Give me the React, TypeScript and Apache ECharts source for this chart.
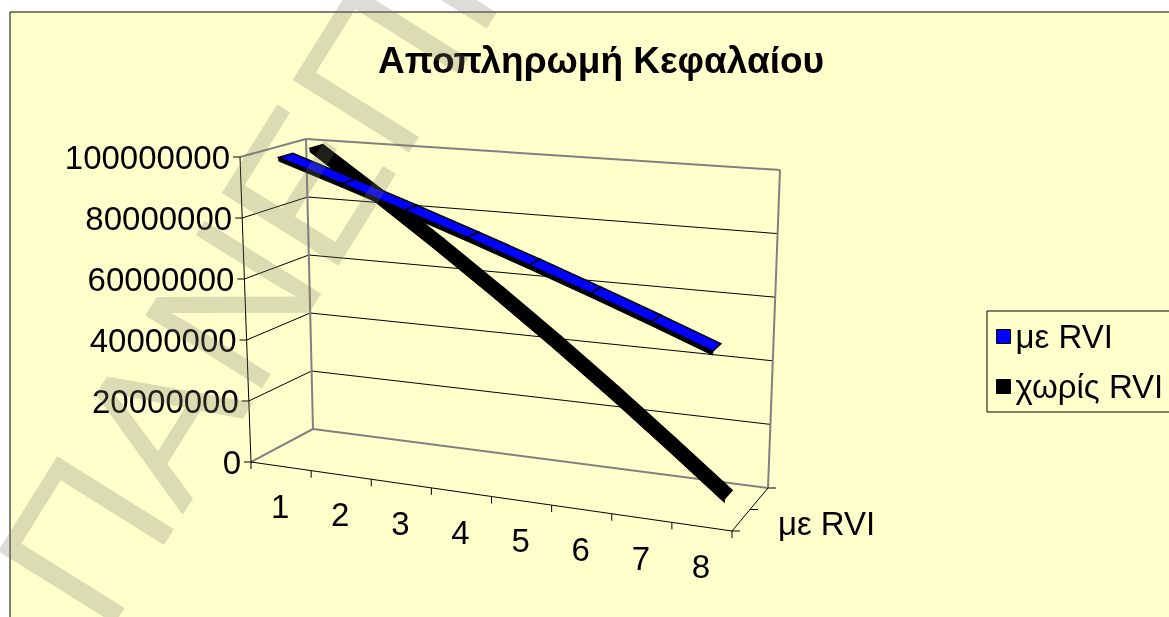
import React, { useEffect, useRef } from 'react';
import * as echarts from 'echarts';

// ---------- data ----------
const categories = ['1', '2', '3', '4', '5', '6', '7', '8'];
const seriesNames = ['με RVI', 'χωρίς RVI'];
const withRVI = [100000000, 93100000, 86200000, 79300000, 72400000, 65500000, 58600000, 51700000];
const withoutRVI = [100000000, 85800000, 71600000, 57400000, 43200000, 29000000, 14800000, 800000];
const yTicks = [0, 20000000, 40000000, 60000000, 80000000, 100000000];
const depthLabels = ['με RVI'];
const titleText = 'Αποπληρωμή Κεφαλαίου';
const watermarkText = 'ΠΑΝΕΠΙΣΤΗΜΙΟ';

// ---------- layout / styling ----------
const FONT = "'Liberation Sans', Arial, sans-serif";
const BG = '#FFFFCC';
const EDGE = '#808080';
const LABEL_SIZE = 33;
// screen corners of the 3D plot box (front/back, left/right, bottom/top)
const C: Record<string, number[]> = {
  flb: [251, 462], frb: [732, 531], flt: [240, 157], frt: [747, 197],
  blb: [313, 429], brb: [768, 488], blt: [306, 139], brt: [780, 170],
};
const lerp = (a: number[], b: number[], t: number) => [a[0] + (b[0] - a[0]) * t, a[1] + (b[1] - a[1]) * t];
// u: along categories (0..1), d: depth (0 front .. 1 back), v: value (0..1)
function proj(u: number, d: number, v: number) {
  const fb = lerp(C.flb, C.frb, u), ft = lerp(C.flt, C.frt, u);
  const bb = lerp(C.blb, C.brb, u), bt = lerp(C.blt, C.brt, u);
  const f = lerp(fb, ft, v), b = lerp(bb, bt, v);
  return lerp(f, b, d);
}
function toUV(params: any, pt: number[]) {
  const cs = params.coordSys;
  return [(pt[0] - cs.x) / cs.width, (cs.y + cs.height - pt[1]) / cs.height];
}
const line = (p: number[], q: number[], stroke: string, lineWidth: number) => ({
  type: 'line', shape: { x1: p[0], y1: p[1], x2: q[0], y2: q[1] }, style: { stroke, lineWidth },
});

function ribbon(name: string, values: number[], d0: number, d1: number, color: string, z: number) {
  return {
    type: 'custom', name, coordinateSystem: 'cartesian2d', clip: false, z,
    itemStyle: { color },
    data: values.map((v, i) => [i, v]),
    renderItem: (params: any, api: any) => {
      const i = params.dataIndex;
      if (i >= values.length - 1) return { type: 'group', children: [] };
      const a = toUV(params, api.coord([i, values[i]]));
      const b = toUV(params, api.coord([i + 1, values[i + 1]]));
      const th = 0.012;
      const top = [proj(a[0], d0, a[1]), proj(b[0], d0, b[1]), proj(b[0], d1, b[1]), proj(a[0], d1, a[1])];
      const front = [proj(a[0], d0, a[1]), proj(b[0], d0, b[1]), proj(b[0], d0, b[1] - th), proj(a[0], d0, a[1] - th)];
      return {
        type: 'group',
        children: [
          { type: 'polygon', shape: { points: front }, style: { fill: '#000', stroke: '#000', lineWidth: 1 } },
          { type: 'polygon', shape: { points: top }, style: { fill: color, stroke: '#000', lineWidth: 1.5 } },
        ],
      };
    },
  };
}

const option: any = {
  animation: false,
  title: {
    text: titleText, left: 596, top: 37, textAlign: 'center',
    textStyle: { fontSize: 37, fontWeight: 'bold', fontFamily: FONT, color: '#000' },
  },
  legend: {
    data: seriesNames.map((n) => ({ name: n, icon: 'rect' })),
    orient: 'vertical', left: 987, top: 311,
    itemWidth: 14, itemHeight: 14, itemGap: 17,
    padding: [9, 40, 9, 9],
    backgroundColor: BG, borderColor: '#000', borderWidth: 1, borderRadius: 0,
    textStyle: { fontSize: LABEL_SIZE, fontFamily: FONT, color: '#000' },
    itemStyle: { borderColor: '#000', borderWidth: 1 },
    selectedMode: false,
  },
  grid: { left: 100, top: 100, width: 800, height: 400, show: false },
  xAxis: { type: 'category', data: categories, boundaryGap: true, show: false },
  yAxis: { type: 'value', min: 0, max: 100000000, interval: 20000000, show: false },
  graphic: {
    elements: [
      { type: 'rect', z: -10, silent: true, shape: { x: 10, y: 12, width: 1200, height: 640 }, style: { fill: BG, stroke: '#000', lineWidth: 1 } },
      {
        type: 'text', z: 1000, silent: true, x: 47, y: 601, rotation: (58 * Math.PI) / 180,
        style: { text: watermarkText, fontSize: 200, fontFamily: FONT, fill: 'rgba(120,120,110,0.26)', textAlign: 'left', textVerticalAlign: 'middle' },
      },
    ],
  },
  series: [
    {
      type: 'custom', name: 'valueAxis', coordinateSystem: 'cartesian2d', clip: false, silent: true, z: 1,
      data: yTicks.map((t) => [0, t]),
      renderItem: (params: any, api: any) => {
        const val = api.value(1);
        const v = toUV(params, api.coord([0, val]))[1];
        const children: any[] = [];
        const edge = params.dataIndex === 0 || params.dataIndex === yTicks.length - 1;
        if (!edge) {
          children.push(line(proj(0, 1, v), proj(1, 1, v), '#000', 1));
          children.push(line(proj(0, 0, v), proj(0, 1, v), '#000', 1));
        }
        const p = proj(0, 0, v);
        children.push(line([p[0] - 7, p[1]], p, '#000', 1));
        children.push({
          type: 'text',
          style: { text: String(val), x: p[0] - 10, y: p[1], align: 'right', verticalAlign: 'middle', fontSize: LABEL_SIZE, fontFamily: FONT, fill: '#000' },
        });
        return { type: 'group', children };
      },
    },
    {
      type: 'custom', name: 'box', coordinateSystem: 'cartesian2d', clip: false, silent: true, z: 1,
      data: [[0, 0]],
      renderItem: () => {
        const P = (u: number, d: number, v: number) => proj(u, d, v);
        const children: any[] = [
          line(P(0, 0, 1), P(0, 1, 1), EDGE, 2),
          line(P(0, 1, 1), P(1, 1, 1), EDGE, 2),
          line(P(0, 1, 0), P(0, 1, 1), EDGE, 2),
          line(P(1, 1, 0), P(1, 1, 1), EDGE, 2),
          line(P(0, 1, 0), P(1, 1, 0), EDGE, 2),
          line(P(0, 0, 0), P(0, 1, 0), EDGE, 2),
          line(P(0, 0, 0), P(0, 0, 1), '#000', 1),
          line(P(0, 0, 0), P(1, 0, 0), '#000', 1),
          line(P(1, 0, 0), P(1, 1, 0), '#000', 1),
        ];
        [0, 0.5, 1].forEach((d) => {
          const p = P(1, d, 0);
          children.push(line(p, [p[0] + 8, p[1]], '#000', 1));
        });
        depthLabels.forEach((lab, k) => {
          const p = P(1, 0.22 + k * 0.5, 0);
          children.push({
            type: 'text',
            style: { text: lab, x: p[0] + 38, y: p[1] + 2, align: 'left', verticalAlign: 'middle', fontSize: LABEL_SIZE, fontFamily: FONT, fill: '#000' },
          });
        });
        return { type: 'group', children };
      },
    },
    {
      type: 'custom', name: 'categoryAxis', coordinateSystem: 'cartesian2d', clip: false, silent: true, z: 1,
      data: categories.map((c, i) => [i, 0]),
      renderItem: (params: any, api: any) => {
        const i = params.dataIndex;
        const cs = params.coordSys;
        const pt = api.coord([i, 0]);
        const half = api.size([1, 0])[0] / 2;
        const uC = (pt[0] - cs.x) / cs.width;
        const uL = (pt[0] - half - cs.x) / cs.width;
        const uR = (pt[0] + half - cs.x) / cs.width;
        const tick = (u: number) => {
          const p = proj(u, 0, 0);
          return line(p, [p[0], p[1] + 7], '#000', 1);
        };
        const children: any[] = [tick(uL)];
        if (i === categories.length - 1) children.push(tick(uR));
        const c = proj(uC, 0, 0);
        children.push({
          type: 'text',
          style: { text: categories[i], x: c[0] - 1, y: c[1] + 40, align: 'center', verticalAlign: 'middle', fontSize: LABEL_SIZE, fontFamily: FONT, fill: '#000' },
        });
        return { type: 'group', children };
      },
    },
    ribbon(seriesNames[1], withoutRVI, 0.6, 0.8, '#000000', 3),
    ribbon(seriesNames[0], withRVI, 0.11, 0.33, '#0000FF', 4),
  ],
};

export default function App() {
  const ref = useRef<HTMLDivElement>(null);
  useEffect(() => {
    const chart = echarts.init(ref.current!, null, { renderer: 'svg' });
    chart.setOption(option);
    return () => chart.dispose();
  }, []);
  return <div ref={ref} style={{ position: 'fixed', left: 0, top: 0, width: 1169, height: 617 }} />;
}
